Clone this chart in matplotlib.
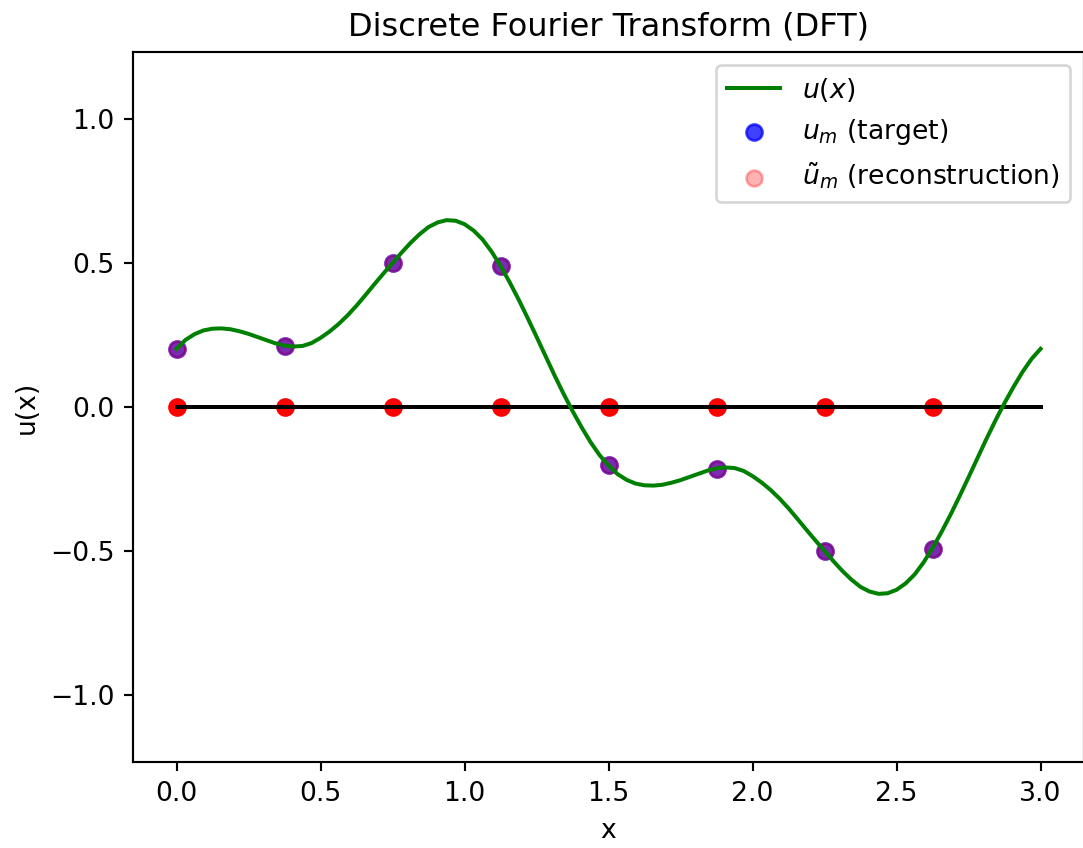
import numpy as np
import matplotlib
matplotlib.use("Agg")
import matplotlib.pyplot as plt

# curve u(x), every 1/32 in x
x_fine = np.linspace(0, 3, 97)
u_fine = [0.202, 0.233, 0.253, 0.266, 0.272, 0.273, 0.270, 0.263, 0.254, 0.243,
          0.232, 0.221, 0.213, 0.210, 0.212, 0.222, 0.240, 0.262, 0.288, 0.318,
          0.352, 0.389, 0.427, 0.464, 0.500, 0.536, 0.570, 0.600, 0.625, 0.641,
          0.649, 0.647, 0.635, 0.613, 0.582, 0.540, 0.490, 0.434, 0.374, 0.310,
          0.244, 0.177, 0.110, 0.046, -0.014, -0.070, -0.122, -0.167, -0.203,
          -0.233, -0.253, -0.266, -0.272, -0.273, -0.270, -0.263, -0.254, -0.243,
          -0.232, -0.221, -0.213, -0.210, -0.212, -0.222, -0.240, -0.262, -0.288,
          -0.318, -0.352, -0.389, -0.427, -0.464, -0.500, -0.536, -0.570, -0.600,
          -0.625, -0.641, -0.649, -0.647, -0.635, -0.613, -0.582, -0.540, -0.490,
          -0.434, -0.374, -0.310, -0.244, -0.177, -0.110, -0.046, 0.014, 0.070,
          0.122, 0.167, 0.202]

# sample points
x_m = [0.0, 0.375, 0.75, 1.125, 1.5, 1.875, 2.25, 2.625]
u_m = [0.200, 0.213, 0.500, 0.490, -0.202, -0.214, -0.500, -0.492]
u_rec = [0.200, 0.213, 0.500, 0.490, -0.202, -0.214, -0.500, -0.492]
zeros_m = [0, 0, 0, 0, 0, 0, 0, 0]
zero_line_x = [0, 3]
zero_line_y = [0, 0]

fig = plt.figure(figsize=(1083 / 192, 848 / 192), dpi=192)
ax = fig.add_axes([0.1231, 0.1011, 0.8776, 0.8379])

ax.plot(zero_line_x, zero_line_y, color='k')
ax.plot(x_fine, u_fine, color='green', label=r'$u(x)$')
ax.scatter(x_m, zeros_m, color='red')
ax.scatter(x_m, u_m, color='blue', alpha=0.75, label=r'$u_m$ (target)')
ax.scatter(x_m, u_rec, color='red', alpha=0.3, label=r'$\tilde{u}_m$ (reconstruction)')

ax.set_xlim(-0.15, 3.15)
ax.set_ylim(-1.234, 1.234)
ax.set_xticks([0.0, 0.5, 1.0, 1.5, 2.0, 2.5, 3.0])
ax.set_yticks([-1.0, -0.5, 0.0, 0.5, 1.0])
ax.set_xlabel("x")
ax.set_ylabel("u(x)")
ax.set_title("Discrete Fourier Transform (DFT)")
ax.legend(loc='upper right')

fig.savefig("out.png", dpi=192)
